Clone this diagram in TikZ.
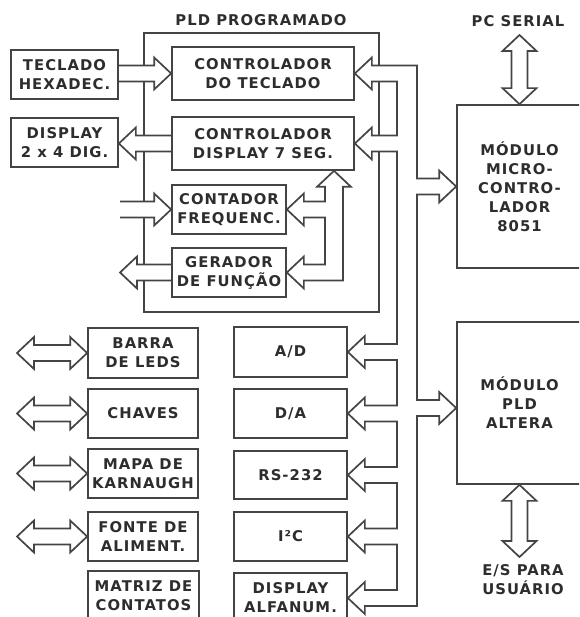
\documentclass[tikz,border=0pt]{standalone}
\usepackage{fontspec}
\usetikzlibrary{positioning,calc}
\newfontfamily\boxfam{DejaVu Sans}[LetterSpace=7]
\newcommand\boxfont{\boxfam\bfseries\fontsize{14.8}{19}\selectfont}
\definecolor{ink}{RGB}{68,68,68}
\definecolor{txt}{RGB}{45,45,45}
\pgfdeclarelayer{back}
\pgfdeclarelayer{wires}
\pgfsetlayers{back,wires,main}
% heads of the wide bus arrows (left / right pointing)
\newcommand\headl[1]{-- ([xshift=17pt,yshift=8pt]#1) -- ([xshift=17pt,yshift=16pt]#1) -- (#1) -- ([xshift=17pt,yshift=-16pt]#1) -- ([xshift=17pt,yshift=-8pt]#1)}
\newcommand\headr[1]{-- ([xshift=-17pt,yshift=-8pt]#1) -- ([xshift=-17pt,yshift=-16pt]#1) -- (#1) -- ([xshift=-17pt,yshift=16pt]#1) -- ([xshift=-17pt,yshift=8pt]#1)}
\tikzset{
  blk/.style={draw=ink,line width=1.7pt,fill=white,inner sep=0pt,align=center,text=txt,font=\boxfont},
  frame/.style={draw=ink,line width=1.7pt,inner sep=0pt},
  lbl/.style={text=txt,align=center,font=\boxfont},
  bus/.style={draw=ink,line width=1.7pt,fill=white,line join=miter}
}

\begin{document}
\begin{tikzpicture}[x=1pt,y=-1pt]
  \useasboundingbox (0,0) rectangle (579,617);
  \clip (0,0) rectangle (579,617);

  \begin{pgfonlayer}{back}
  \node[frame,minimum width=235,minimum height=279] (pld) at (261.5,172.5) {};
  \end{pgfonlayer}
  \node[lbl] (pldl) at (261,20) {PLD PROGRAMADO};

  \node[blk,minimum width=182,minimum height=53] (ctk) at (263,73.5) {CONTROLADOR\\DO TECLADO};
  \node[blk,minimum width=182,minimum height=53] (cds) at (263,143.5) {CONTROLADOR\\DISPLAY 7 SEG.};
  \node[blk,minimum width=114,minimum height=49] (cnt) at (229,209.5) {CONTADOR\\FREQUENC.};
  \node[blk,minimum width=114,minimum height=49] (ger) at (229,272.5) {GERADOR\\DE FUNÇÃO};
  \node[blk,minimum width=107,minimum height=49] (tec) at (64.5,74.5) {TECLADO\\HEXADEC.};
  \node[blk,minimum width=107,minimum height=49] (dsp) at (64.5,142.5) {DISPLAY\\2 x 4 DIG.};

  \node[blk,minimum width=110,minimum height=50] (leds) at (143,353) {BARRA\\DE LEDS};
  \node[blk,minimum width=110,minimum height=49] (chv) at (143,413.5) {CHAVES};
  \node[blk,minimum width=110,minimum height=49] (kar) at (143,473.5) {MAPA DE\\KARNAUGH};
  \node[blk,minimum width=110,minimum height=49] (fon) at (143,536.5) {FONTE DE\\ALIMENT.};
  \node[blk,minimum width=111,minimum height=50] (mat) at (143.5,596) {MATRIZ DE\\CONTATOS};

  \node[blk,minimum width=113,minimum height=50] (ad) at (290.5,352) {A/D};
  \node[blk,minimum width=113,minimum height=49] (da) at (290.5,413.5) {D/A};
  \node[blk,minimum width=113,minimum height=48] (rs) at (290.5,475) {RS-232};
  \node[blk,minimum width=113,minimum height=49] (iic) at (290.5,536.5) {I²C};
  \node[blk,minimum width=113,minimum height=50] (alf) at (290.5,598) {DISPLAY\\ALFANUM.};

  \node[blk,minimum width=125,minimum height=163] (mic) at (519.5,186.5) {MÓDULO\\MICRO-\\CONTRO-\\LADOR\\8051};
  \node[blk,minimum width=125,minimum height=162] (alt) at (519.5,403) {MÓDULO\\PLD\\ALTERA};
  \node[lbl] (pcl) at (518,21) {PC SERIAL};
  \node[lbl] (esl) at (523,580) {E/S PARA\\USUÁRIO};

  % bus lines and free ends
  \coordinate (bi) at (397,0);
  \coordinate (bo) at (417,0);
  \coordinate (si) at (325,0);
  \coordinate (so) at (343,0);
  \coordinate (sb) at (334,0);
  \coordinate (fin) at (120,0);
  \coordinate (fout) at (120,0);
  \coordinate (dl) at (17,0);
  \coordinate (pct) at (519.5,35);
  \coordinate (est) at (519.5,557);
  \coordinate (altin) at ([yshift=-5pt]alt.west);

  \begin{pgfonlayer}{wires}
  % main bus
  \draw[bus] ([yshift=8pt]ctk.east -| bo)
    \foreach \n in {ctk,cds,ad,da,rs,iic,alf} {
      -- ([yshift=8pt]\n.east -| bi) \headl{\n.east} -- ([yshift=-8pt]\n.east -| bi) }
    -- ([yshift=-8pt]alf.east -| bo)
    -- ([yshift=-8pt]altin -| bo) \headr{altin} -- ([yshift=8pt]altin -| bo)
    -- ([yshift=-8pt]mic.west -| bo) \headr{mic.west} -- ([yshift=8pt]mic.west -| bo)
    -- cycle;
  % bus inside the PLD
  \draw[bus] (cds.south -| sb) -- ([xshift=-17pt,yshift=-16pt]cds.south -| sb)
    -- ([yshift=-16pt]cds.south -| si)
    \foreach \n in {cnt,ger} {
      -- ([yshift=8pt]\n.east -| si) \headl{\n.east} -- ([yshift=-8pt]\n.east -| si) }
    -- ([yshift=-8pt]ger.east -| so) -- ([yshift=-16pt]cds.south -| so)
    -- ([xshift=17pt,yshift=-16pt]cds.south -| sb) -- cycle;

  \draw[bus] ([yshift=-8pt]tec.east |- ctk.west) \headr{ctk.west} -- ([yshift=8pt]tec.east |- ctk.west);
  \draw[bus] ([yshift=8pt]cds.west) \headl{dsp.east |- cds.west} -- ([yshift=-8pt]cds.west);
  \draw[bus] ([yshift=-8pt]fin |- cnt.west) \headr{cnt.west} -- ([yshift=8pt]fin |- cnt.west);
  \draw[bus] ([yshift=8pt]ger.west) \headl{fout |- ger.west} -- ([yshift=-8pt]ger.west);

  \foreach \n in {leds,chv,kar,fon}
    \draw[bus] ([xshift=-17pt,yshift=8pt]\n.west) \headl{dl |- \n.west} \headr{\n.west} -- cycle;

  \draw[bus] (pct) -- ([xshift=17pt,yshift=-16pt]pct) -- ([xshift=8pt,yshift=-16pt]pct)
    -- ([xshift=8pt,yshift=16pt]mic.north) -- ([xshift=17pt,yshift=16pt]mic.north) -- (mic.north)
    -- ([xshift=-17pt,yshift=16pt]mic.north) -- ([xshift=-8pt,yshift=16pt]mic.north)
    -- ([xshift=-8pt,yshift=-16pt]pct) -- ([xshift=-17pt,yshift=-16pt]pct) -- cycle;
  \draw[bus] (alt.south) -- ([xshift=17pt,yshift=-16pt]alt.south) -- ([xshift=8pt,yshift=-16pt]alt.south)
    -- ([xshift=8pt,yshift=16pt]est) -- ([xshift=17pt,yshift=16pt]est) -- (est)
    -- ([xshift=-17pt,yshift=16pt]est) -- ([xshift=-8pt,yshift=16pt]est)
    -- ([xshift=-8pt,yshift=-16pt]alt.south) -- ([xshift=-17pt,yshift=-16pt]alt.south) -- cycle;
  \end{pgfonlayer}
\end{tikzpicture}
\end{document}
